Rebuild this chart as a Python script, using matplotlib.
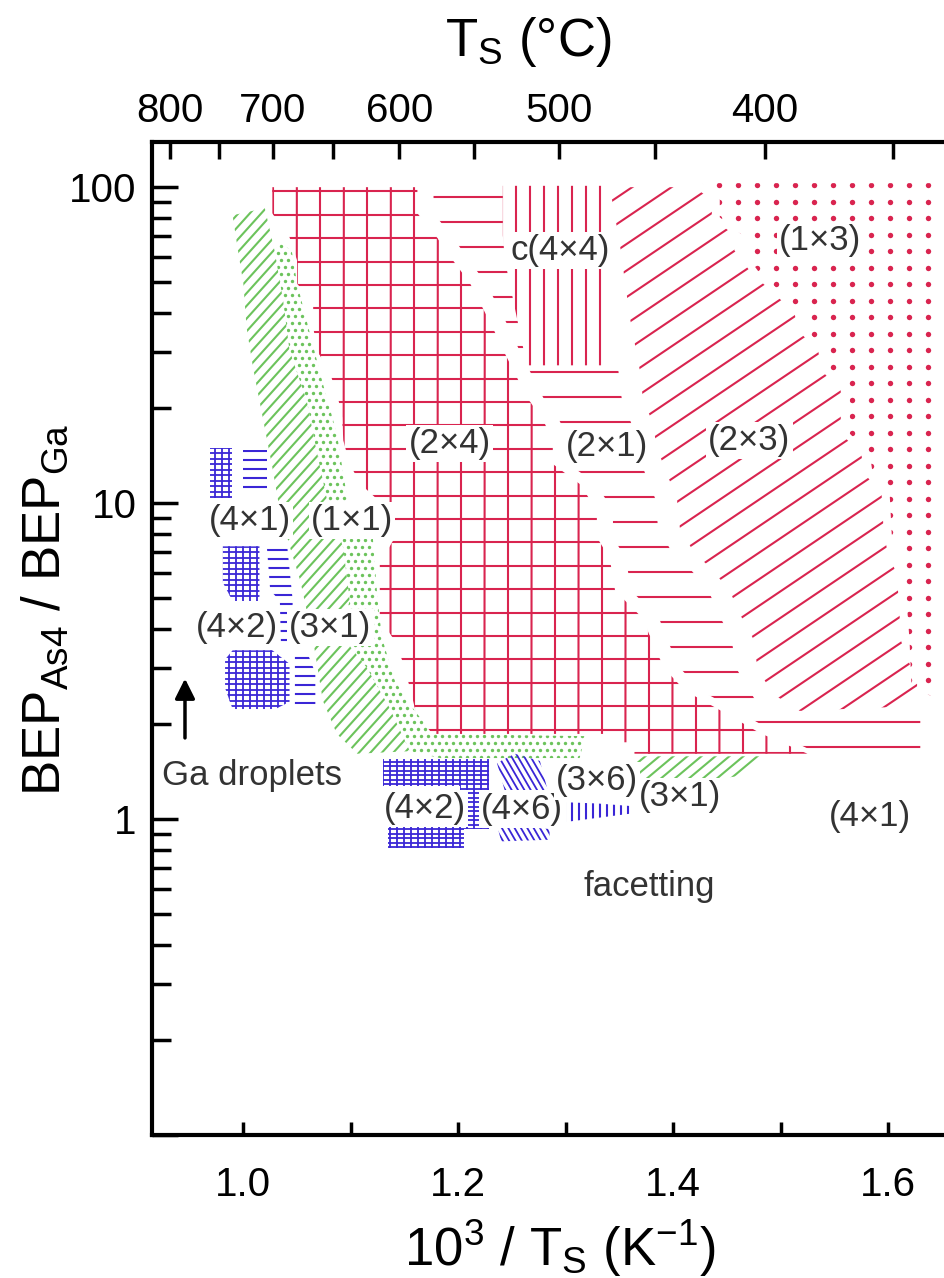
import numpy as np
import matplotlib
matplotlib.use("Agg")
import matplotlib.pyplot as plt
from matplotlib.patches import Polygon
from matplotlib.collections import LineCollection
from matplotlib.ticker import FixedLocator, MultipleLocator, LogLocator, NullFormatter, FixedFormatter

plt.rcParams['font.family'] = ['Liberation Sans', 'DejaVu Sans']
plt.rcParams['mathtext.fontset'] = 'custom'
plt.rcParams['mathtext.rm'] = 'Liberation Sans'
plt.rcParams['mathtext.it'] = 'Liberation Sans:italic'
plt.rcParams['mathtext.bf'] = 'Liberation Sans:bold'

RED = '#d9244f'
GREEN = '#6cc35c'
BLUE = '#3a26d6'
TXT = '#333333'

# region outlines: x = 1000/Ts (1/K), y = BEP(As4)/BEP(Ga)
x_2x4 = [1.027, 1.162, 1.162, 1.180, 1.195, 1.211, 1.232, 1.242, 1.264, 1.279,
         1.288, 1.288, 1.313, 1.329, 1.329, 1.341, 1.346, 1.372, 1.381, 1.392,
         1.411, 1.450, 1.481, 1.525, 1.364, 1.364, 1.339, 1.339, 1.176, 1.161,
         1.155, 1.149, 1.141, 1.127, 1.127, 1.141, 1.136, 1.109, 1.099, 1.093,
         1.092, 1.088, 1.082, 1.069, 1.065, 1.065, 1.050, 1.050, 1.043, 1.027]
y_2x4 = [100, 100, 82.7, 69.4, 58.7, 49.6, 36.0, 30.4, 21.6, 18.3,
         15.8, 13.3, 11.5, 9.5, 7.8, 6.67, 5.28, 4.31, 3.59, 2.99,
         2.55, 2.15, 1.87, 1.61, 1.61, 1.75, 1.75, 1.86, 1.86, 2.15,
         2.6, 3.1, 3.67, 4.3, 6.43, 7.78, 9.47, 11.5, 13.3, 15.8,
         18.7, 21.6, 25.0, 30.4, 36.0, 42.3, 49.6, 58.7, 69.4, 82.7]

x_2x1 = [1.177, 1.2415, 1.2415, 1.2434, 1.2638, 1.323, 1.349, 1.352, 1.361, 1.365,
         1.374, 1.383, 1.386, 1.398, 1.417, 1.433, 1.442, 1.454, 1.459, 1.473,
         1.485, 1.630, 1.630, 1.540, 1.496, 1.465, 1.426, 1.407, 1.396, 1.387,
         1.361, 1.356, 1.344, 1.344, 1.328, 1.303, 1.303, 1.294, 1.279, 1.257,
         1.247, 1.226, 1.210, 1.195, 1.177]
y_2x1 = [100, 100, 70.4, 58.7, 27.3, 27.3, 26.3, 21.6, 17.9, 15.0,
         12.4, 10.4, 8.37, 7.07, 6.12, 5.28, 4.46, 3.75, 2.99, 2.49,
         2.12, 2.12, 1.58, 1.58, 1.87, 2.15, 2.55, 2.99, 3.59, 4.31,
         5.28, 6.67, 7.8, 9.5, 11.5, 13.3, 15.8, 18.3, 21.6, 30.4,
         36.0, 49.6, 58.7, 69.4, 82.7]

x_c4x4 = [1.2415, 1.3383, 1.3429, 1.2638, 1.2434, 1.2415]
y_c4x4 = [101, 101, 27.3, 27.3, 58.7, 70.4]

x_2x3 = [1.341, 1.420, 1.436, 1.436, 1.457, 1.457, 1.473, 1.494, 1.513, 1.516,
         1.535, 1.538, 1.556, 1.556, 1.575, 1.578, 1.594, 1.596, 1.600, 1.608,
         1.610, 1.612, 1.627, 1.627, 1.5178, 1.4927, 1.4787, 1.474, 1.462, 1.4527,
         1.4369, 1.4183, 1.4062, 1.4034, 1.394, 1.3848, 1.381, 1.3717, 1.369, 1.3597,
         1.3503]
y_2x3 = [100, 100, 91.0, 80.3, 70.4, 63.1, 53.4, 46.1, 39.9, 35.2,
         30.4, 26.3, 22.7, 16.6, 14.35, 12.4, 10.7, 8.0, 6.92, 5.98,
         4.91, 3.67, 2.68, 2.28, 2.2, 2.49, 2.99, 3.75, 4.46, 5.28,
         6.12, 7.07, 8.37, 10.4, 12.4, 15.0, 17.9, 21.6, 26.3, 38.7,
         66.4]

x_1x3 = [1.4276, 1.642, 1.642, 1.622, 1.620, 1.6173, 1.6155, 1.608, 1.6034, 1.6015,
         1.5857, 1.583, 1.5643, 1.5643, 1.5457, 1.5429, 1.5243, 1.5206, 1.502, 1.4806,
         1.4648, 1.4648, 1.4434, 1.4434]
y_1x3 = [103, 103, 2.45, 2.55, 3.67, 4.91, 5.98, 6.92, 8.0, 10.7,
         12.4, 14.35, 16.6, 22.7, 26.3, 30.4, 35.2, 39.9, 46.1, 53.4,
         63.1, 70.4, 80.3, 91.0]

x_3x1 = [0.990, 0.995, 1.000, 1.003, 1.009, 1.018, 1.027, 1.034, 1.043, 1.053,
         1.065, 1.074, 1.087, 1.106, 1.155, 1.136, 1.115, 1.090, 1.099, 1.093,
         1.078, 1.068, 1.059, 1.043, 1.037, 1.029, 1.020]
y_3x1 = [81.5, 63.1, 49.6, 36.0, 26.9, 18.7, 12.96, 9.47, 7.33, 5.68,
         3.67, 2.37, 1.86, 1.61, 1.64, 2.25, 3.01, 3.86, 4.91, 7.23,
         10.2, 14.7, 21.1, 30.4, 43.8, 63.1, 85.8]

x_1x1 = [1.034, 1.045, 1.050, 1.062, 1.074, 1.087, 1.097, 1.120, 1.125, 1.129,
         1.141, 1.155, 1.176, 1.318, 1.313, 1.183, 1.155, 1.136, 1.115, 1.090,
         1.099, 1.093, 1.078, 1.068, 1.059, 1.043, 1.037, 1.029]
y_1x1 = [66.4, 63.1, 49.6, 34.4, 23.9, 16.6, 10.2, 8.18, 4.91, 3.75,
         2.74, 2.31, 1.86, 1.83, 1.56, 1.56, 1.64, 2.25, 3.01, 3.86,
         4.91, 7.23, 10.2, 14.7, 21.1, 30.4, 43.8, 63.1]

x_3x1_low = [1.366, 1.485, 1.462, 1.4155, 1.3876, 1.366]
y_3x1_low = [1.58, 1.58, 1.37, 1.30, 1.23, 1.18]

# blue (Ga-rich) patches
x_b_top_grid = [0.969, 0.989, 0.989, 0.969]
y_b_top_grid = [14.9, 14.9, 10.4, 10.4]
x_b_top_dash = [1.000, 1.022, 1.022, 1.000]
y_b_top_dash = [14.7, 14.7, 10.8, 10.8]
x_b_mid_grid = [0.981, 1.015, 1.015, 0.990, 0.981]
y_b_mid_grid = [7.3, 7.3, 4.9, 4.9, 5.6]
x_b_mid_dash = [1.022, 1.041, 1.046, 1.044, 1.035, 1.034, 1.025]
y_b_mid_dash = [7.2, 7.2, 4.9, 3.6, 3.6, 4.9, 5.3]
x_b_low_grid = [0.990, 1.027, 1.043, 1.043, 1.030, 0.990, 0.983, 0.983]
y_b_low_grid = [3.42, 3.42, 3.1, 2.35, 2.23, 2.23, 2.6, 3.2]
x_b_low_dash = [1.048, 1.060, 1.067, 1.067, 1.048]
y_b_low_dash = [3.33, 3.33, 2.9, 2.31, 2.31]
x_4x2 = [1.130, 1.229, 1.229, 1.205, 1.205, 1.1345, 1.1345, 1.2015, 1.2015, 1.130]
y_4x2 = [1.55, 1.55, 0.93, 0.93, 0.81, 0.81, 0.95, 0.95, 1.27, 1.27]
x_4x6_a = [1.236, 1.2527, 1.276, 1.2834, 1.2434]
y_4x6_a = [1.505, 1.61, 1.527, 1.227, 1.227]
x_4x6_b = [1.236, 1.285, 1.285, 1.240]
y_4x6_b = [0.96, 0.93, 0.86, 0.85]
x_3x6 = [1.301, 1.330, 1.360, 1.360, 1.301]
y_3x6 = [1.13, 1.12, 1.10, 1.04, 0.98]

labels = ['c(4×4)', '(1×3)', '(2×4)', '(2×1)', '(2×3)', '(4×1)', '(1×1)',
          '(4×2)', '(3×1)', '(4×2)', '(4×6)', '(3×6)', '(3×1)', '(4×1)', 'facetting']
label_x = [1.2945, 1.5364, 1.192, 1.338, 1.471, 1.006, 1.101,
           0.994, 1.081, 1.169, 1.259, 1.329, 1.406, 1.583, 1.378]
label_y = [63.1, 67.9, 15.4, 15.1, 15.8, 8.8, 8.8,
           4.03, 4.03, 1.08, 1.076, 1.32, 1.18, 1.02, 0.613]

temps_major = [800, 700, 600, 500, 400]
temps_minor = [750, 650, 550, 450, 350]

fig = plt.figure(figsize=(9.45, 12.78), dpi=100)
ax = fig.add_axes([152 / 945, 143 / 1278, 793 / 945, 993 / 1278])
ax.set_yscale('log')
ax.set_xlim(0.915, 1.653)
ax.set_ylim(0.1, 139)
W, H = 793.0, 993.0   # axes size in pixels


def region(xs, ys):
    p = Polygon(np.column_stack([xs, ys]), closed=True, fill=False, edgecolor='none')
    ax.add_patch(p)
    return p


def hatch(patch, color, angle, step, through=(0, 0), lw=1.5):
    th = np.deg2rad(angle)
    d = np.array([np.cos(th), np.sin(th)])
    n = np.array([-np.sin(th), np.cos(th)])
    L = np.hypot(W, H)
    c0 = np.dot(through, n)
    ks = np.arange(np.floor((-L - c0) / step), np.ceil((L - c0) / step) + 1)
    segs = []
    for k in ks:
        p = n * (c0 + k * step)
        segs.append([(p - L * d) / [W, H], (p + L * d) / [W, H]])
    lc = LineCollection(segs, colors=color, linewidths=lw, transform=ax.transAxes, zorder=1)
    ax.add_collection(lc, autolim=False)
    lc.set_clip_path(patch)


def dots(patch, color, dx, dy, size, through=(0, 0), stagger=False):
    xs = np.arange(through[0] % dx - dx, W + dx, dx)
    ys = np.arange(through[1] % dy - dy, H + dy, dy)
    X, Y = np.meshgrid(xs, ys)
    if stagger:
        X[::2] += dx / 2
    sc = ax.scatter(X.ravel() / W, Y.ravel() / H, s=size, c=color, lw=0,
                    transform=ax.transAxes, zorder=1)
    sc.set_clip_path(patch)


# red (As-rich) reconstructions
p = region(x_2x4, y_2x4)
hatch(p, RED, 0, 23.4, through=(0, 382))
hatch(p, RED, 90, 23.5, through=(121, 0))
p = region(x_2x1, y_2x1)
hatch(p, RED, 0, 25, through=(0, 388))
p = region(x_c4x4, y_c4x4)
hatch(p, RED, 90, 14, through=(350, 0))
p = region(x_2x3, y_2x3)
hatch(p, RED, 34, 22, through=(700, 300))
p = region(x_1x3, y_1x3)
dots(p, RED, 19, 16.5, 15, through=(776, 950))

# green
p = region(x_3x1, y_3x1)
hatch(p, GREEN, 48, 8.5, lw=1.5)
p = region(x_3x1_low, y_3x1_low)
hatch(p, GREEN, 40, 9, lw=1.5)
p = region(x_1x1, y_1x1)
dots(p, GREEN, 7, 7, 6, stagger=True)

# blue
for xs, ys in [(x_b_top_grid, y_b_top_grid), (x_b_mid_grid, y_b_mid_grid),
               (x_b_low_grid, y_b_low_grid)]:
    p = region(xs, ys)
    hatch(p, BLUE, 0, 5.5, lw=1.3)
    hatch(p, BLUE, 90, 7, lw=1.3)
for xs, ys in [(x_b_top_dash, y_b_top_dash), (x_b_mid_dash, y_b_mid_dash),
               (x_b_low_dash, y_b_low_dash)]:
    p = region(xs, ys)
    hatch(p, BLUE, 0, 9, lw=1.5)
p = region(x_4x2, y_4x2)
hatch(p, BLUE, 0, 4.5, lw=1.3)
hatch(p, BLUE, 90, 7, lw=1.3)
for xs, ys in [(x_4x6_a, y_4x6_a), (x_4x6_b, y_4x6_b)]:
    p = region(xs, ys)
    hatch(p, BLUE, 120, 5.5, lw=1.3)
p = region(x_3x6, y_3x6)
hatch(p, BLUE, 90, 7, lw=1.5)

for s, lx, ly in zip(labels, label_x, label_y):
    ax.text(lx, ly, s, fontsize=25, ha='center', va='center', color=TXT, zorder=3,
            bbox=dict(fc='white', ec='none', pad=1.5))
ax.text(1.008, 1.37, 'Ga droplets', fontsize=25, ha='center', va='center', color=TXT)
ax.annotate('', xy=(0.9457, 2.84), xytext=(0.9457, 1.77),
            arrowprops=dict(arrowstyle='-|>', color='k', lw=2.5, mutation_scale=30))

# axes styling
for side in ['left', 'bottom']:
    ax.spines[side].set_linewidth(3)
ax.spines['right'].set_visible(False)
ax.spines['top'].set_visible(False)
ax.xaxis.set_minor_locator(MultipleLocator(0.1))
ax.set_xticks([1.0, 1.2, 1.4, 1.6], ['1.0', '1.2', '1.4', '1.6'])
ax.yaxis.set_major_locator(FixedLocator([0.1, 1, 10, 100]))
ax.yaxis.set_major_formatter(FixedFormatter(['', '1', '10', '100']))
ax.yaxis.set_minor_locator(LogLocator(base=10, subs=np.arange(2, 10)))
ax.yaxis.set_minor_formatter(NullFormatter())
ax.tick_params(axis='y', which='major', direction='in', length=19, width=2.5, labelsize=29, pad=11)
ax.tick_params(axis='y', which='minor', direction='in', length=13.5, width=2.5)
ax.tick_params(axis='x', which='both', direction='in', length=9.5, width=2.5, labelsize=29, pad=22)

ax2 = ax.twiny()
ax2.set_xlim(ax.get_xlim())
for side in ['left', 'bottom', 'right']:
    ax2.spines[side].set_visible(False)
ax2.spines['top'].set_linewidth(3)
ax2.set_xticks([1000 / (t + 273.15) for t in temps_major], [str(t) for t in temps_major])
ax2.set_xticks([1000 / (t + 273.15) for t in temps_minor], minor=True)
ax2.tick_params(axis='x', which='both', direction='in', length=12, width=2.5, labelsize=29, pad=9)

fig.text(560 / 945, 1 - 1248 / 1278, r'10$^3$ / T$_\mathrm{S}$ (K$^{-1}$)', fontsize=38,
         ha='center', va='center')
fig.text(528 / 945, 1 - 42 / 1278, r'T$_\mathrm{S}$ (°C)', fontsize=38, ha='center', va='center')
fig.text(45 / 945, 1 - 610 / 1278, r'BEP$_\mathrm{As4}$ / BEP$_\mathrm{Ga}$', fontsize=38,
         rotation=90, ha='center', va='center')

fig.savefig('out.png', dpi=100)
